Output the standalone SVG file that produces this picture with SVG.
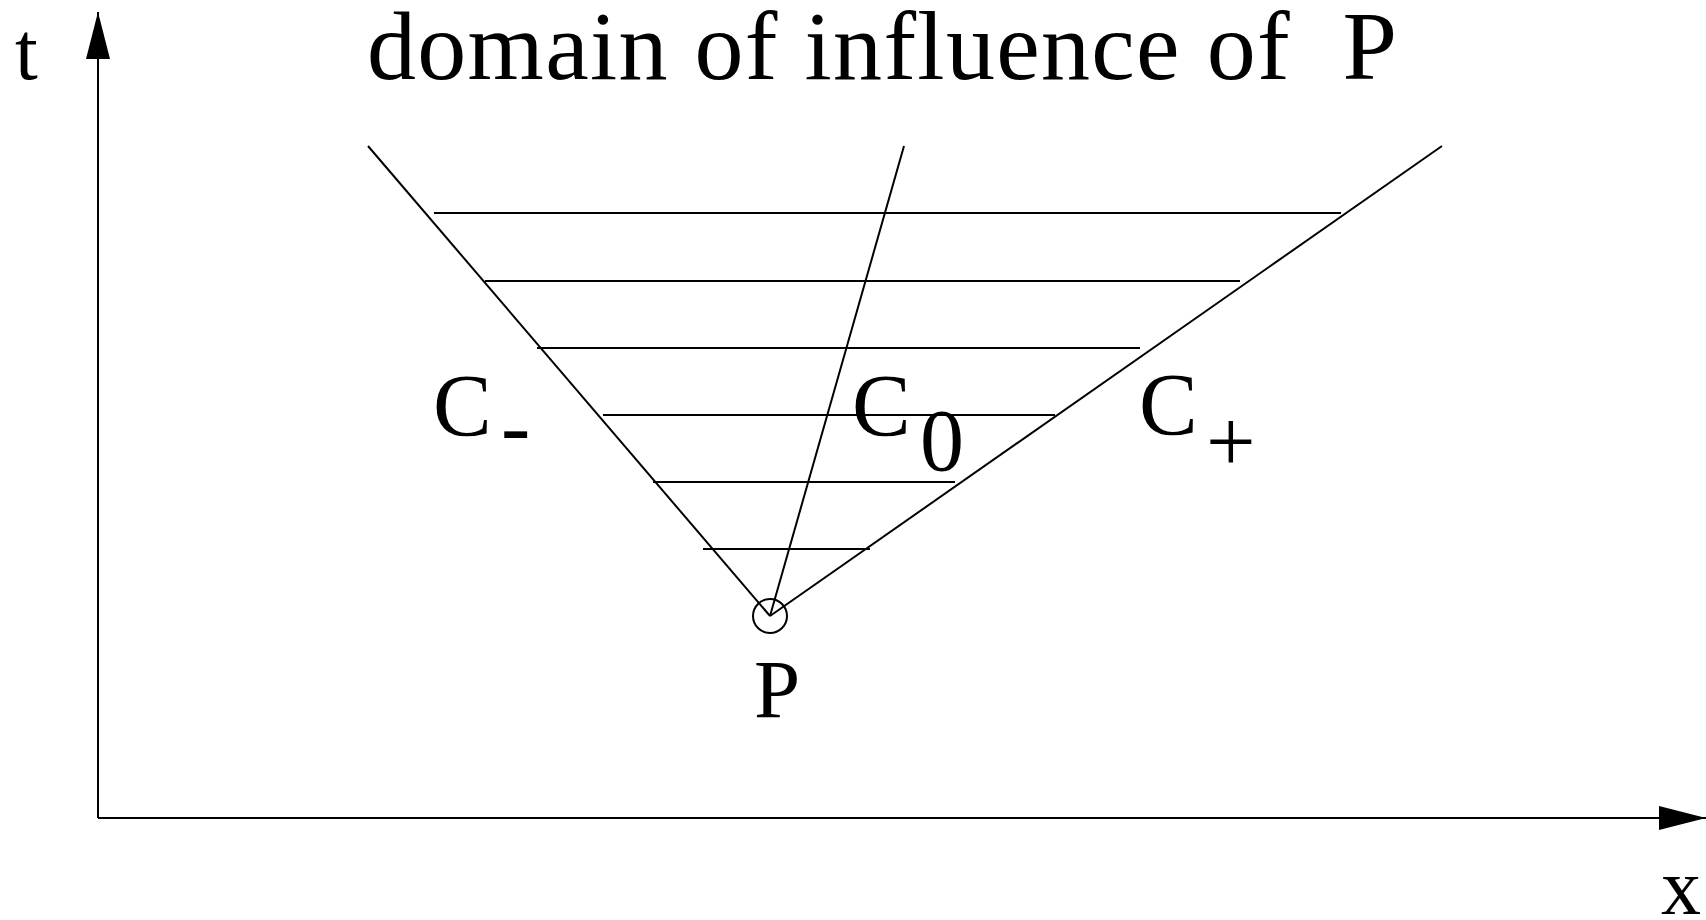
<svg xmlns="http://www.w3.org/2000/svg" width="1706" height="920" viewBox="0 0 1706 920">
<style>
.ln{stroke:#000;stroke-width:2;fill:none}
.tx{font-family:"Liberation Serif","Times New Roman",serif;fill:#000}
</style>
<defs>
<marker id="arr" markerUnits="userSpaceOnUse" markerWidth="50" markerHeight="26" viewBox="-48 -13 50 26" refX="0" refY="0" orient="auto">
<path d="M0,0 L-47,-12 L-47,12 Z" fill="#000"/>
</marker>
</defs>
<rect width="1706" height="920" fill="#fff"/>
<g id="axes">
<line class="ln" x1="98" y1="818" x2="98" y2="12" marker-end="url(#arr)"/>
<line class="ln" x1="98" y1="818" x2="1706" y2="818" marker-end="url(#arr)"/>
</g>
<g id="connectors">
<line class="ln" x1="368" y1="146" x2="770" y2="616"/>
<line class="ln" x1="904" y1="146" x2="770" y2="616"/>
<line class="ln" x1="1442" y1="146" x2="770" y2="616"/>
<line class="ln" x1="434" y1="213" x2="1341" y2="213"/>
<line class="ln" x1="485" y1="281" x2="1240" y2="281"/>
<line class="ln" x1="537" y1="348" x2="1140" y2="348"/>
<line class="ln" x1="603" y1="415" x2="1055" y2="415"/>
<line class="ln" x1="653" y1="482" x2="955" y2="482"/>
<line class="ln" x1="703" y1="549" x2="870" y2="549"/>
</g>
<g id="nodeP">
<circle class="ln" cx="770" cy="616" r="17"/>
<text class="tx" x="754" y="717" font-size="83">P</text>
</g>
<g id="labels">
<text class="tx" x="15" y="79" font-size="82">t</text>
<text class="tx" x="1661" y="914" font-size="80">x</text>
<text class="tx" x="367" y="79" font-size="98" letter-spacing="1.3" xml:space="preserve">domain of influence of  P</text>
<g id="cminus"><text class="tx" x="433" y="435" font-size="88">C</text><text class="tx" x="501" y="456" font-size="88">-</text></g>
<g id="czero"><text class="tx" x="852" y="435" font-size="88">C</text><text class="tx" x="920" y="470" font-size="88">0</text></g>
<g id="cplus"><text class="tx" x="1139" y="434" font-size="88">C</text><text class="tx" x="1206" y="471" font-size="88">+</text></g>
</g>
</svg>
